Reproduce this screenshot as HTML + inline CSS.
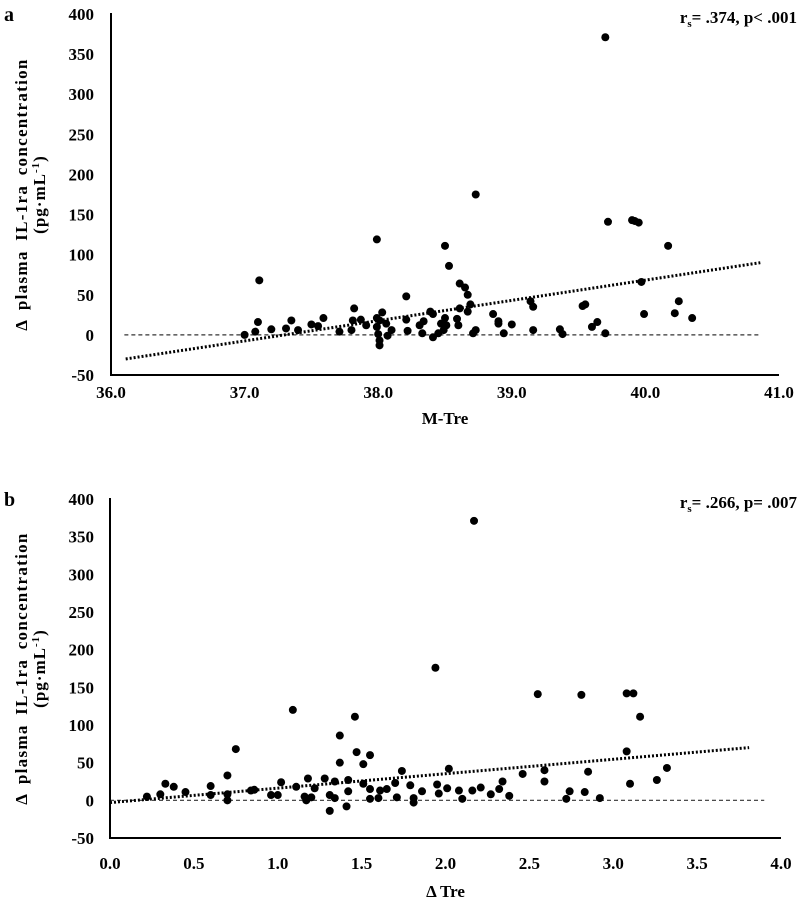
<!DOCTYPE html>
<html><head><meta charset="utf-8"><style>
html,body{margin:0;padding:0;background:#fff;}
svg{display:block;}
text{font-family:"Liberation Serif",serif;font-weight:bold;fill:#000;}
</style></head><body>
<svg id="chart" width="800" height="902" viewBox="0 0 800 902" xmlns="http://www.w3.org/2000/svg"></svg>
<script>
const yTicks=[-50,0,50,100,150,200,250,300,350,400];
const xTicksA=[36,37,38,39,40,41];
const xTicksB=[0,0.5,1,1.5,2,2.5,3,3.5,4];
const aX=[39.70,38.73,39.72,39.90,39.92,39.95,37.99,38.50,40.17,38.53,37.11,39.97,38.61,38.65,38.67,38.21,39.14,40.25,39.16,39.55,39.53,38.69,37.82,38.61,39.99,40.22,40.35,38.86,38.67,38.03,38.39,38.41,37.59,37.35,37.10,37.81,37.87,37.99,38.01,38.21,38.50,38.59,38.90,39.00,38.90,39.64,39.60,37.50,37.55,37.40,37.31,37.20,37.08,37.00,37.71,37.80,37.91,37.99,38.06,38.10,38.07,38.22,38.33,38.31,38.34,38.41,38.45,38.49,38.51,38.47,38.60,38.71,38.73,38.94,39.16,39.36,39.38,39.70,38.01,38.01,38.00];
const aY=[371,175,141,143,142,140,119,111,111,86,68,66,64,59,50,48,42,42,35,38,36,38,33,33,26,27,21,26,29,28,29,26,21,18,16,18,19,21,18,19,21,20,17,13,14,16,10,13,11,6,8,7,4,0,4,6,12,10,14,6,-1,5,2,12,17,-3,2,6,12,14,12,2,6,2,6,7,1,2,-7,-13,1];
const bX=[2.17,1.94,2.55,2.81,3.08,3.12,3.16,1.09,1.46,1.37,0.75,3.08,1.47,1.55,1.51,1.37,2.02,3.32,1.74,2.59,2.85,0.70,2.46,1.28,1.18,1.34,1.42,1.02,2.59,3.26,2.34,3.10,0.33,0.38,0.60,1.11,1.22,0.86,0.84,1.95,1.79,1.70,1.51,2.01,2.21,2.32,1.55,1.65,1.61,0.45,0.22,0.30,0.60,0.70,0.96,1.00,1.42,1.86,2.16,2.08,2.27,2.38,2.74,2.83,1.16,1.20,1.31,1.34,1.17,1.55,1.60,1.71,1.81,1.81,1.96,2.10,2.72,2.92,0.70,1.31,1.41];
const bY=[371,176,141,140,142,142,111,120,111,86,68,65,64,60,48,50,42,43,39,40,38,33,35,29,29,25,27,24,25,27,25,22,22,18,19,18,16,14,13,21,20,23,22,16,17,15,15,15,13,11,5,8,7,8,7,7,12,12,13,13,8,6,12,11,5,4,7,3,0,2,3,4,-3,3,9,2,2,3,0,-14,-8];
const trendA=[[36.11,-30],[40.86,90]];
const trendB=[[0,-3],[3.81,70]];

const svg=document.getElementById('chart');
const NS='http://www.w3.org/2000/svg';
function mk(tag,attrs,parent){const e=document.createElementNS(NS,tag);for(const k in attrs)e.setAttribute(k,attrs[k]);(parent||svg).appendChild(e);return e;}

function panel(p){
  const g=mk('g',{});
  
  
  const sx=v=>p.x0+(v-p.xmin)/(p.xmax-p.xmin)*(p.x1-p.x0);
  const sy=v=>p.y0+(v-(-50))/(450)*(p.y1-p.y0);
  const z=mk('line',{x1:sx(p.zeroFrom),x2:sx(p.zeroTo),y1:sy(0),y2:sy(0),stroke:'#333','stroke-width':1.2,'stroke-dasharray':'4 3'},g);
  
  
  const t=mk('line',{x1:sx(p.trend[0][0]),y1:sy(p.trend[0][1]),x2:sx(p.trend[1][0]),y2:sy(p.trend[1][1]),stroke:'#000','stroke-width':3,'stroke-dasharray':'2 2'},g);
  
  
  p.xs.forEach((xv,i)=>{
    const c=mk('circle',{cx:sx(xv),cy:sy(p.ys[i]),r:4,fill:'#000'},g);
    
    
  });
  const ya=mk('line',{x1:p.x0,x2:p.x0,y1:p.y1-1,y2:p.y0+1,stroke:'#000','stroke-width':2},g);
  
  
  const xa=mk('line',{x1:p.x0-1,x2:p.x1,y1:p.y0,y2:p.y0,stroke:'#000','stroke-width':2},g);
  
  
  yTicks.forEach(v=>{
    const tx=mk('text',{x:94,y:sy(v)+6,'text-anchor':'end','font-size':17},g);
    tx.textContent=v;
    
    
  });
  p.xticks.forEach(v=>{
    const tx=mk('text',{x:sx(v),y:p.xlabY,'text-anchor':'middle','font-size':17},g);
    tx.textContent=v.toFixed(1);
    
    
  });
  const xt=mk('text',{x:(p.x0+p.x1)/2,y:p.xtitleY,'text-anchor':'middle','font-size':17},g);
  xt.textContent=p.xtitle;
  
  
  const cy=(p.y0+p.y1)/2;
  const yt=mk('text',{x:0,y:0,'text-anchor':'middle','font-size':17,transform:`translate(27 ${cy}) rotate(-90)`,'letter-spacing':'1.3','word-spacing':'4'},g);
  yt.textContent='Δ plasma IL-1ra concentration';
  
  
  const yt2=mk('text',{x:0,y:0,'text-anchor':'middle','font-size':17,transform:`translate(45 ${cy}) rotate(-90)`,'letter-spacing':'1'},g);
  yt2.innerHTML='(pg·mL<tspan dy="-6" font-size="11">-1</tspan><tspan dy="6">)</tspan>';
  
  
  const pl=mk('text',{x:4,y:p.y1+7,'font-size':20},g);
  pl.textContent=p.id;
  
  
  const an=mk('text',{x:797,y:p.y1+9,'text-anchor':'end','font-size':17},g);
  an.innerHTML='r<tspan dy="4" font-size="11">s</tspan><tspan dy="-4">= '+p.stat+'</tspan>';
  
  
}
panel({id:'a',xs:aX,ys:aY,xmin:36,xmax:41,x0:111,x1:779,y0:375,y1:14,xticks:xTicksA,xlabY:398,xtitleY:424,xtitle:'M-Tre',trend:trendA,zeroFrom:36.1,zeroTo:40.86,stat:'.374, p< .001'});
panel({id:'b',xs:bX,ys:bY,xmin:0,xmax:4,x0:110,x1:781,y0:838,y1:499,xticks:xTicksB,xlabY:869,xtitleY:897,xtitle:'Δ Tre',trend:trendB,zeroFrom:0,zeroTo:3.9,stat:'.266, p= .007'});
</script>
</body></html>
